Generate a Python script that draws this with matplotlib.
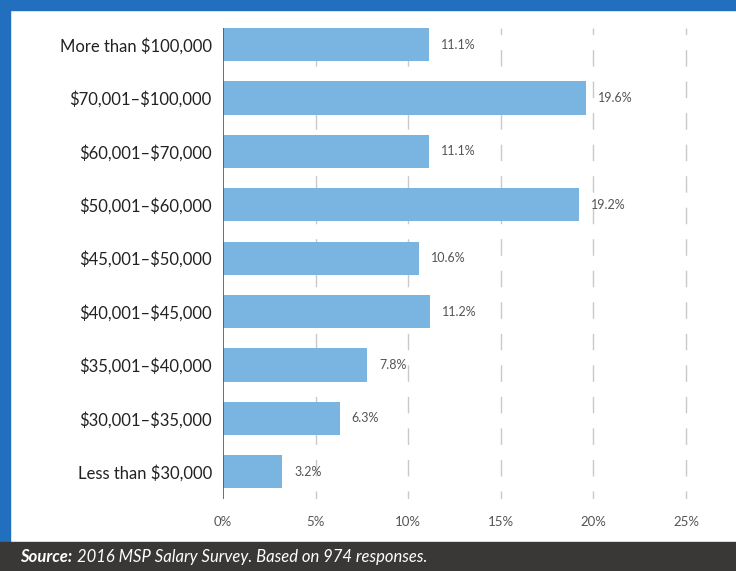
import matplotlib
matplotlib.use("Agg")
import matplotlib.pyplot as plt
from matplotlib.patches import Rectangle

categories = ["More than $100,000", "$70,001\u2013$100,000", "$60,001\u2013$70,000",
              "$50,001\u2013$60,000", "$45,001\u2013$50,000", "$40,001\u2013$45,000",
              "$35,001\u2013$40,000", "$30,001\u2013$35,000", "Less than $30,000"]
shares = [11.1, 19.6, 11.1, 19.2, 10.6, 11.2, 7.8, 6.3, 3.2]
xticks = [0, 5, 10, 15, 20, 25]

plt.rcParams['font.family'] = ['Lato', 'DejaVu Sans']
plt.rcParams['text.parse_math'] = False

W, H = 736, 571
fig = plt.figure(figsize=(W / 100, H / 100), dpi=100)
fig.patch.set_facecolor('white')

# blue frame along top and left, dark source strip at the bottom
fig.patches.append(Rectangle((0, 1 - 10 / H), 1, 10 / H, transform=fig.transFigure,
                             color='#2270bd', zorder=0))
fig.patches.append(Rectangle((0, 29 / H), 10 / W, 1, transform=fig.transFigure,
                             color='#2270bd', zorder=0))
fig.patches.append(Rectangle((0, 0), 1, 29 / H, transform=fig.transFigure,
                             color='#3a3837', zorder=0))

ax = fig.add_axes([223 / W, 1 - 499 / H, 1 - 223 / W, (499 - 28) / H])
ypos = list(range(len(categories)))
ax.barh(ypos, shares, height=0.62, color='#7ab4e1', zorder=2)
ax.set_ylim(8.51, -0.31)
ax.set_xlim(0, 513 / 18.52)

# dashed guide lines behind the bars
for x in xticks[1:]:
    ax.axvline(x, color='#c9c9c9', lw=1, linestyle=(6.1, (11.9, 10.8)), zorder=1)
ax.axvline(0, color='#555555', lw=1.2, zorder=3)

for y, v in zip(ypos, shares):
    ax.text(v + 0.65, y, f"{v}%", va='center', ha='left', fontsize=9, color='#555555')

for s in ax.spines.values():
    s.set_visible(False)
ax.set_yticks(ypos)
ax.set_yticklabels(categories, fontsize=12, color='#222222')
ax.tick_params(axis='y', length=0, pad=8)
ax.set_xticks(xticks)
ax.set_xticklabels([f"{t}%" for t in xticks], fontsize=9.5, color='#555555')
ax.tick_params(axis='x', length=0, pad=12)
ax.patch.set_alpha(0)

fig.text(20 / W, 14 / H, "Source:", color='white', fontsize=12, fontweight='bold',
         style='italic', va='center', ha='left')
fig.text(77 / W, 14 / H, "2016 MSP Salary Survey. Based on 974 responses.", color='white',
         fontsize=12, style='italic', va='center', ha='left')

fig.savefig("out.png", dpi=100)
